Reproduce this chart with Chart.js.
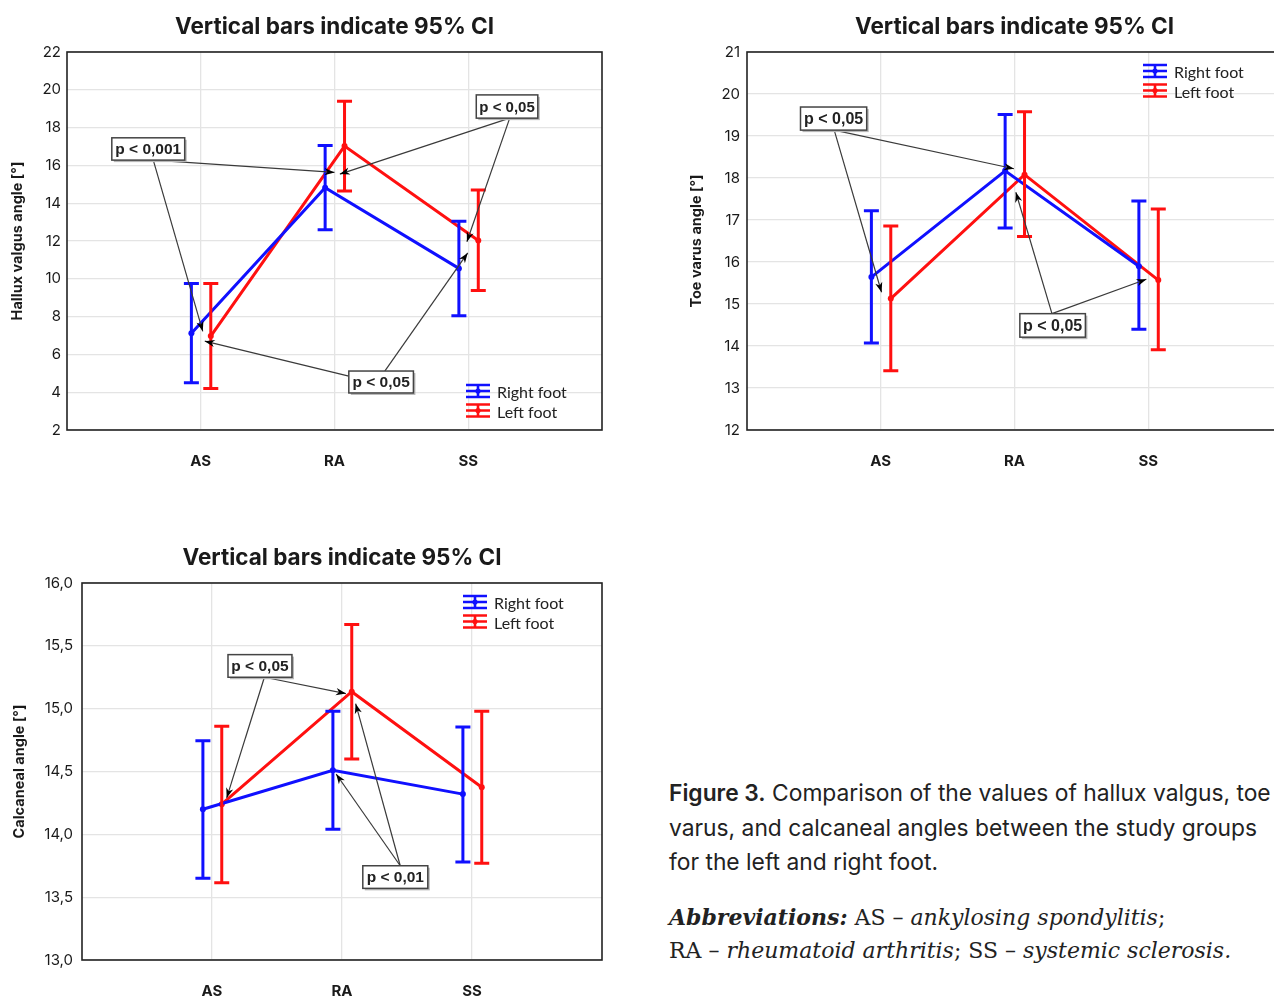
<!DOCTYPE html>
<html>
<head>
<meta charset="utf-8">
<script src="https://cdn.jsdelivr.net/npm/chart.js@4.4.1/dist/chart.umd.min.js"></script>
<style>
  html, body { margin: 0; padding: 0; background: #fff; }
  body { width: 1274px; height: 998px; overflow: hidden; position: relative; }
  canvas { position: absolute; }
  #c1 { left: 0; top: 0; }
  #c2 { left: 680px; top: 0; }
  #c3 { left: 0; top: 531px; }
  .cap { position: absolute; left: 669px; white-space: nowrap; color: #222; }
  #cap1 { top: 776px; font: 22.8px/34.5px Inter, Lato, "Open Sans", sans-serif; }
  #cap1 b { font-weight: 600; }
  #cap2 { top: 901px; font: 22px/33px "DejaVu Serif", "Liberation Serif", serif; }
</style>
</head>
<body>
<canvas id="c1" width="620" height="480"></canvas>
<canvas id="c2" width="620" height="480"></canvas>
<canvas id="c3" width="620" height="467"></canvas>
<div class="cap" id="cap1"><b>Figure 3.</b> Comparison of the values of hallux valgus, toe<br>varus, and calcaneal angles between the study groups<br>for the left and right foot.</div>
<div class="cap" id="cap2"><b><i>Abbreviations:</i></b> AS – <i>ankylosing spondylitis</i>;<br>RA – <i>rheumatoid arthritis</i>; SS – <i>systemic sclerosis.</i></div>
<script>
// ---------------- DATA ----------------
const categories = ['AS', 'RA', 'SS'];
const seriesLabels = ['Right foot', 'Left foot'];
const chartTitle = 'Vertical bars indicate 95% CI';

// Hallux valgus angle
const hvRightMean = [7.12, 14.82, 10.55];
const hvRightLow  = [4.5, 12.6, 8.05];
const hvRightHigh = [9.75, 17.05, 13.05];
const hvLeftMean  = [6.97, 17.02, 12.03];
const hvLeftLow   = [4.2, 14.65, 9.38];
const hvLeftHigh  = [9.75, 19.4, 14.7];
const hvTicks = [2, 4, 6, 8, 10, 12, 14, 16, 18, 20, 22];
const hvTickLabels = ['2', '4', '6', '8', '10', '12', '14', '16', '18', '20', '22'];

// Toe varus angle
const tvRightMean = [15.64, 18.17, 15.9];
const tvRightLow  = [14.07, 16.81, 14.4];
const tvRightHigh = [17.22, 19.51, 17.45];
const tvLeftMean  = [15.13, 18.08, 15.57];
const tvLeftLow   = [13.41, 16.61, 13.91];
const tvLeftHigh  = [16.86, 19.58, 17.26];
const tvTicks = [12, 13, 14, 15, 16, 17, 18, 19, 20, 21];
const tvTickLabels = ['12', '13', '14', '15', '16', '17', '18', '19', '20', '21'];

// Calcaneal angle
const caRightMean = [14.2, 14.51, 14.32];
const caRightLow  = [13.65, 14.04, 13.78];
const caRightHigh = [14.745, 14.98, 14.855];
const caLeftMean  = [14.24, 15.135, 14.375];
const caLeftLow   = [13.615, 14.6, 13.77];
const caLeftHigh  = [14.86, 15.67, 14.98];
const caTicks = [13, 13.5, 14, 14.5, 15, 15.5, 16];
const caTickLabels = ['13,0', '13,5', '14,0', '14,5', '15,0', '15,5', '16,0'];

// significance annotations (text, box in data units, arrows from -> to in data units)
const hvNotes = [
  { text: 'p < 0,001', box: [0.335, 16.28, 0.88, 17.46], arrows: [[[0.645, 16.28], [1.015, 7.22]], [[0.645, 16.28], [2.0, 15.63]]] },
  { text: 'p < 0,05', box: [3.06, 18.5, 3.52, 19.73], arrows: [[[3.31, 18.5], [2.04, 15.54]], [[3.31, 18.5], [2.99, 11.96]]] },
  { text: 'p < 0,05', box: [2.107, 3.96, 2.59, 5.12], arrows: [[[2.376, 5.12], [2.996, 11.37]], [[2.107, 4.85], [1.03, 6.7]]] }
];
const tvNotes = [
  { text: 'p < 0,05', box: [0.40, 19.14, 0.895, 19.69], arrows: [[[0.652, 19.14], [1.996, 18.22]], [[0.652, 19.14], [1.006, 15.28]]] },
  { text: 'p < 0,05', box: [2.04, 14.21, 2.53, 14.77], arrows: [[[2.28, 14.77], [2.01, 17.66]], [[2.28, 14.77], [2.986, 15.59]]] }
];
const caNotes = [
  { text: 'p < 0,05', box: [1.123, 15.25, 1.615, 15.43], arrows: [[[1.403, 15.25], [1.113, 14.29]], [[1.403, 15.25], [2.03, 15.12]]] },
  { text: 'p < 0,01', box: [2.16, 13.57, 2.66, 13.75], arrows: [[[2.448, 13.75], [1.955, 14.48]], [[2.448, 13.75], [2.105, 15.04]]] }
];

// ---------------- STYLE ----------------
const BLUE = '#1010ff';
const RED = '#ff1010';
const OFFSET_R = -0.07;
const OFFSET_L = 0.075;
const FONT = 'Inter, Lato, "Open Sans", sans-serif';

function pts(means, off) { return means.map((v, i) => ({ x: i + 1 + off, y: v })); }

function drawArrow(ctx, x1, y1, x2, y2) {
  ctx.beginPath(); ctx.moveTo(x1, y1); ctx.lineTo(x2, y2); ctx.stroke();
  const ang = Math.atan2(y2 - y1, x2 - x1);
  const L = 10, W = 3.6;
  ctx.beginPath();
  ctx.moveTo(x2, y2);
  ctx.lineTo(x2 - L * Math.cos(ang) + W * Math.sin(ang), y2 - L * Math.sin(ang) - W * Math.cos(ang));
  ctx.lineTo(x2 - L * 0.7 * Math.cos(ang), y2 - L * 0.7 * Math.sin(ang));
  ctx.lineTo(x2 - L * Math.cos(ang) - W * Math.sin(ang), y2 - L * Math.sin(ang) + W * Math.cos(ang));
  ctx.closePath(); ctx.fill();
}

const decorPlugin = {
  id: 'decor',
  afterDatasetsDraw(chart, args, opts) {
    const { ctx, chartArea: a, scales: { x, y } } = chart;
    // error bars
    chart.data.datasets.forEach((ds, i) => {
      ctx.save();
      ctx.strokeStyle = ds.borderColor; ctx.lineWidth = 3; ctx.lineCap = 'butt';
      ds.data.forEach((p, j) => {
        const px = x.getPixelForValue(p.x);
        const yl = y.getPixelForValue(ds.errLow[j]);
        const yh = y.getPixelForValue(ds.errHigh[j]);
        ctx.beginPath();
        ctx.moveTo(px, yl); ctx.lineTo(px, yh);
        ctx.moveTo(px - 7.5, yl); ctx.lineTo(px + 7.5, yl);
        ctx.moveTo(px - 7.5, yh); ctx.lineTo(px + 7.5, yh);
        ctx.stroke();
      });
      ctx.restore();
    });
    // frame
    ctx.save();
    ctx.strokeStyle = '#222'; ctx.lineWidth = 1.6;
    ctx.strokeRect(a.left, a.top, a.right - a.left, a.bottom - a.top);
    ctx.restore();
    // annotations
    (opts.notes || []).forEach(n => {
      ctx.save();
      ctx.strokeStyle = '#3a3a3a'; ctx.fillStyle = '#000'; ctx.lineWidth = 1.2;
      n.arrows.forEach(ar => {
        drawArrow(ctx, x.getPixelForValue(ar[0][0]), y.getPixelForValue(ar[0][1]),
                       x.getPixelForValue(ar[1][0]), y.getPixelForValue(ar[1][1]));
      });
      const bx1 = x.getPixelForValue(n.box[0]), bx2 = x.getPixelForValue(n.box[2]);
      const by1 = y.getPixelForValue(n.box[3]), by2 = y.getPixelForValue(n.box[1]);
      ctx.fillStyle = '#b8b8b8';
      ctx.fillRect(bx1 + 2, by1 + 2, bx2 - bx1, by2 - by1);
      ctx.fillStyle = '#fff';
      ctx.fillRect(bx1, by1, bx2 - bx1, by2 - by1);
      ctx.strokeStyle = '#444'; ctx.lineWidth = 1.5;
      ctx.strokeRect(bx1, by1, bx2 - bx1, by2 - by1);
      let fs = 16;
      ctx.font = 'bold ' + fs + 'px "Liberation Sans Narrow", "Arial Narrow", sans-serif';
      while (ctx.measureText(n.text).width > (bx2 - bx1) - 6 && fs > 9) {
        fs -= 0.5;
        ctx.font = 'bold ' + fs + 'px "Liberation Sans Narrow", "Arial Narrow", sans-serif';
      }
      ctx.fillStyle = '#222'; ctx.textAlign = 'center'; ctx.textBaseline = 'middle';
      ctx.fillText(n.text, (bx1 + bx2) / 2, (by1 + by2) / 2 + 1);
      ctx.restore();
    });
    // legend
    const lg = opts.legend;
    if (lg) {
      const gx = lg.fromRight != null ? a.right - lg.fromRight : a.left + lg.fromLeft;
      const gy = lg.fromBottom != null ? a.bottom - lg.fromBottom : a.top + lg.fromTop;
      chart.data.datasets.forEach((ds, i) => {
        const cy = gy + i * 19.5;
        ctx.save();
        ctx.strokeStyle = ds.borderColor; ctx.fillStyle = ds.borderColor; ctx.lineWidth = 2.6;
        ctx.beginPath();
        [-6, 0, 6].forEach(dy => { ctx.moveTo(gx, cy - 2 + dy); ctx.lineTo(gx + 24, cy - 2 + dy); });
        ctx.moveTo(gx + 12, cy - 8); ctx.lineTo(gx + 12, cy + 4);
        ctx.stroke();
        ctx.beginPath(); ctx.arc(gx + 12, cy - 2, 2.6, 0, Math.PI * 2); ctx.fill();
        ctx.fillStyle = '#222';
        ctx.font = '16px "Liberation Sans Narrow", "Arial Narrow", Lato, sans-serif';
        ctx.textAlign = 'left'; ctx.textBaseline = 'middle';
        ctx.fillText(ds.label, gx + 31, cy);
        ctx.restore();
      });
    }
  }
};

function makeChart(id, cfg) {
  const canvas = document.getElementById(id);
  const H = canvas.height;
  return new Chart(canvas, {
    type: 'line',
    data: {
      datasets: [
        { label: seriesLabels[0], data: pts(cfg.rMean, OFFSET_R), errLow: cfg.rLow, errHigh: cfg.rHigh,
          borderColor: BLUE, backgroundColor: BLUE, pointBackgroundColor: BLUE, borderWidth: 3,
          pointRadius: 3, pointBorderWidth: 0, tension: 0, fill: false },
        { label: seriesLabels[1], data: pts(cfg.lMean, OFFSET_L), errLow: cfg.lLow, errHigh: cfg.lHigh,
          borderColor: RED, backgroundColor: RED, pointBackgroundColor: RED, borderWidth: 3,
          pointRadius: 3, pointBorderWidth: 0, tension: 0, fill: false }
      ]
    },
    options: {
      responsive: false,
      animation: false,
      events: [],
      layout: { padding: { left: 0, right: 18, top: 0, bottom: 0 } },
      plugins: {
        legend: { display: false },
        tooltip: { enabled: false },
        title: {
          display: true, text: chartTitle, fullSize: false, color: '#1a1a1a',
          font: { family: FONT, size: 22.5, weight: 'bold', lineHeight: 1.2 },
          padding: { top: 14, bottom: 11 }
        },
        decor: { notes: cfg.notes, legend: cfg.legend }
      },
      scales: {
        x: {
          type: 'linear', min: 0, max: 4,
          afterBuildTicks: s => { s.ticks = categories.map((c, i) => ({ value: i + 1 })); },
          afterFit: s => { s.height = H - cfg.bottom; },
          ticks: { callback: v => categories[v - 1], color: '#1a1a1a', padding: 22,
                   font: { family: FONT, size: 15, weight: 'bold' }, maxRotation: 0, autoSkip: false },
          grid: { color: '#e4e4e4', lineWidth: 1.3, drawTicks: false },
          border: { display: false }
        },
        y: {
          type: 'linear', min: cfg.ticks[0], max: cfg.ticks[cfg.ticks.length - 1],
          afterBuildTicks: s => { s.ticks = cfg.ticks.map(v => ({ value: v })); },
          afterFit: s => { s.width = cfg.left; },
          ticks: { callback: (v, i) => cfg.tickLabels[i], color: '#1a1a1a', padding: cfg.tickPad,
                   font: { family: FONT, size: 15 }, autoSkip: false },
          grid: { color: '#e4e4e4', lineWidth: 1.3, drawTicks: false },
          border: { display: false },
          title: { display: true, text: cfg.yTitle, color: '#1a1a1a',
                   font: { family: FONT, size: 14.5, weight: 'bold', lineHeight: 1.2 },
                   padding: { top: cfg.titlePad, bottom: 0 } }
        }
      }
    },
    plugins: [decorPlugin]
  });
}

makeChart('c1', {
  rMean: hvRightMean, rLow: hvRightLow, rHigh: hvRightHigh,
  lMean: hvLeftMean, lLow: hvLeftLow, lHigh: hvLeftHigh,
  ticks: hvTicks, tickLabels: hvTickLabels, yTitle: 'Hallux valgus angle [°]',
  left: 67, bottom: 430, tickPad: 6, titlePad: 8.5, notes: hvNotes,
  legend: { fromRight: 136, fromBottom: 37 }
});
makeChart('c2', {
  rMean: tvRightMean, rLow: tvRightLow, rHigh: tvRightHigh,
  lMean: tvLeftMean, lLow: tvLeftLow, lHigh: tvLeftHigh,
  ticks: tvTicks, tickLabels: tvTickLabels, yTitle: 'Toe varus angle [°]',
  left: 67, bottom: 430, tickPad: 7, titlePad: 7.5, notes: tvNotes,
  legend: { fromRight: 139, fromTop: 21 }
});
makeChart('c3', {
  rMean: caRightMean, rLow: caRightLow, rHigh: caRightHigh,
  lMean: caLeftMean, lLow: caLeftLow, lHigh: caLeftHigh,
  ticks: caTicks, tickLabels: caTickLabels, yTitle: 'Calcaneal angle [°]',
  left: 82, bottom: 429, tickPad: 9, titlePad: 10.5, notes: caNotes,
  legend: { fromRight: 139, fromTop: 21 }
});
</script>
</body>
</html>
